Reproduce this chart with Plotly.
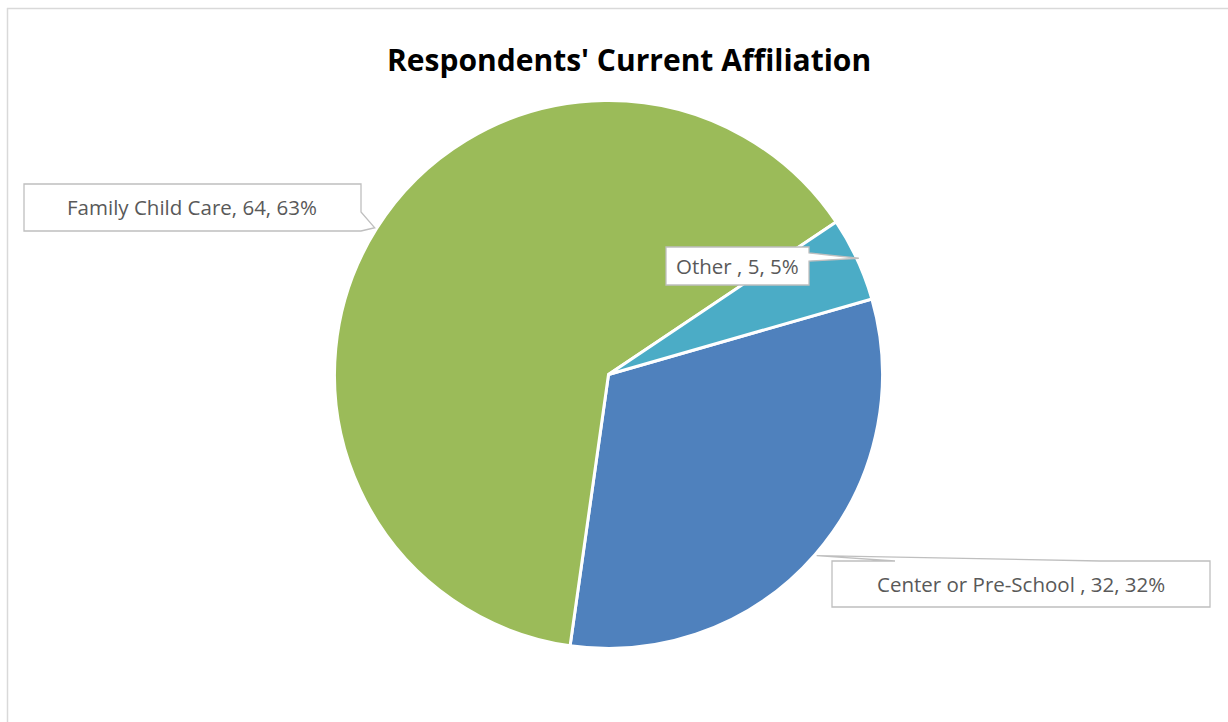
import math
import plotly.graph_objects as go

# ---- data ----
labels = ["Center or Pre-School ", "Family Child Care", "Other "]
values = [32, 64, 5]
percents = ["32%", "63%", "5%"]
colors = ["#4F81BD", "#9BBB59", "#4BACC6"]
title_text = "Respondents' Current Affiliation"

# ---- layout constants (pixels) ----
W, H = 1228, 722
CX, CY, R = 608.5, 374.5, 274.0
ROT = 74.0  # start angle of first slice, clockwise from 12 o'clock

def px(x):
    return x / W

def py(y):
    return 1 - y / H

# callout boxes: (x0, y0, x1, y1)
boxes = [
    (832, 561, 1210, 607),
    (24, 184, 361, 231),
    (666, 247, 809, 285),
]

fig = go.Figure()
fig.add_trace(go.Pie(
    labels=labels,
    values=values,
    sort=False,
    direction="clockwise",
    rotation=ROT,
    marker=dict(colors=colors, line=dict(color="white", width=3)),
    textinfo="none",
    hoverinfo="label+value+percent",
    showlegend=False,
    domain=dict(x=[px(CX - R), px(CX + R)], y=[py(CY + R), py(CY - R)]),
))

# compute slice mid-angles for callout tips
total = sum(values)
mids = []
a = ROT
for v in values:
    span = 360.0 * v / total
    mids.append(a + span / 2)
    a += span

def tip(angle_deg, rr):
    t = math.radians(angle_deg)
    return CX + rr * math.sin(t), CY - rr * math.cos(t)

shapes = []
annotations = []
line_col = "#BFBFBF"

def path_str(pts):
    return "M " + " L ".join(f"{px(x):.5f},{py(y):.5f}" for x, y in pts) + " Z"

for i, (x0, y0, x1, y1) in enumerate(boxes):
    tx, ty = tip(mids[i], R + 2)
    if i == 0:  # Center: tail from top edge
        pts = [(x0, y0), (895, y0), (tx, ty), (1100, y0), (x1, y0), (x1, y1), (x0, y1)]
    elif i == 1:  # Family: tail from right edge bottom
        pts = [(x0, y0), (x1, y0), (x1, 212), (tx, ty), (x1, y1), (x0, y1)]
    else:  # Other: tail from right edge
        pts = [(x0, y0), (x1, y0), (x1, 253), (tx, ty), (x1, 261), (x1, y1), (x0, y1)]
    shapes.append(dict(type="path", xref="paper", yref="paper", path=path_str(pts),
                       fillcolor="white", line=dict(color=line_col, width=1.3), layer="above"))
    annotations.append(dict(
        xref="paper", yref="paper",
        x=px((x0 + x1) / 2), y=py((y0 + y1) / 2),
        xanchor="center", yanchor="middle", showarrow=False,
        text=f"{labels[i]}, {values[i]}, {percents[i]}",
        font=dict(family="Open Sans", size=20.5, color="#595959"),
    ))

# chart frame (top and left edges visible)
shapes.append(dict(type="line", xref="paper", yref="paper", x0=px(7), x1=1, y0=py(8.5), y1=py(8.5),
                   line=dict(color="#D9D9D9", width=1.5)))
shapes.append(dict(type="line", xref="paper", yref="paper", x0=px(7.5), x1=px(7.5), y0=py(8), y1=0,
                   line=dict(color="#D9D9D9", width=1.5)))

annotations.append(dict(
    xref="paper", yref="paper", x=px(629), y=py(59),
    xanchor="center", yanchor="middle", showarrow=False,
    text=f"<b>{title_text}</b>",
    font=dict(family="Open Sans", size=30, color="#000000"),
))

fig.update_layout(
    width=W, height=H,
    margin=dict(l=0, r=0, t=0, b=0),
    paper_bgcolor="white", plot_bgcolor="white",
    shapes=shapes, annotations=annotations,
)

fig.write_html(
    "out.html",
    config={"displayModeBar": False},
    post_script="document.body.style.margin='0px';document.body.style.overflow='hidden';",
)
